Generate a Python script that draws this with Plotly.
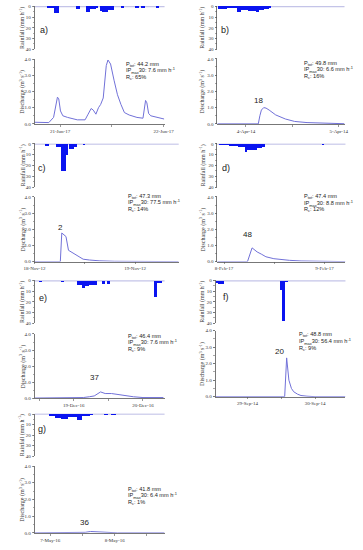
import pandas as pd
import plotly.graph_objects as go

W, H = 363, 550

# ---------------- DATA (hours are relative to each panel's base date) ----------------
base_dates = ["2017-06-21", "2014-04-04", "2012-11-18", "2017-02-08",
              "2016-12-19", "2014-09-29", "2016-05-07"]
x_ranges_h = [(-5.9, 24.2), (-7.4, 25.5), (0.0, 34.4), (-1.6, 29.0),
              (-13.6, 31.5), (-11.4, 34.8), (-5.9, 42.6)]

rain_a_edges = [-3.0, -1.5, -0.3, 3.8, 4.7, 6.0, 7.0, 8.3, 8.9, 9.2, 9.7, 11.2, 12.4, 14.1, 14.8, 17.4, 18.2, 18.8, 19.6, 22.1, 22.9]
rain_a_mm = [1.5, 6, 0, 2, 0, 5.5, 2.5, 1.5, 0, 4.5, 5.5, 3, 0, 1, 0, 1.5, 0, 1.5, 0, 1]
rain_b_edges = [-7.1, -5.0, -2.4, -1.3, 0.6, 1.6, 2.6, 3.4, 4.6, 5.9, 6.5]
rain_b_mm = [2, 1, 5.5, 3.5, 4.5, 4, 5.5, 3, 2, 1]
rain_c_edges = [2.6, 3.4, 5.2, 6.4, 7.5, 8.0, 8.3, 9.4, 10.1, 11.6, 12.0]
rain_c_mm = [2, 0, 3, 25, 10, 0, 5, 3, 0, 1]
rain_d_edges = [-1.1, 1.1, 3.4, 4.9, 5.6, 7.9, 9.0, 9.7, 23.3, 23.9]
rain_d_mm = [1, 2, 3, 7.3, 6, 4.2, 2.4, 0, 1]
rain_e_edges = [-12.0, -10.9, -4.4, -3.3, 1.1, 2.7, 3.8, 5.4, 8.2, 9.8, 10.9, 11.5, 12.5, 27.8, 28.9, 30.5]
rain_e_mm = [1, 0, 1.5, 0, 4, 7, 5, 4, 0, 3, 0, 3.5, 0, 15, 2]
rain_f_edges = [-11.2, -10.4, -8.4, 11.7, 12.1, 13.4, 14.3]
rain_f_mm = [2, 3, 0, 9, 38, 1.5]
rain_g_edges = [-0.6, 1.8, 4.1, 6.4, 8.2, 9.9, 11.7, 13.5, 14.6, 15.8, 19.9, 21.6, 22.8, 24.6]
rain_g_mm = [2, 3.5, 5, 3, 3, 5.5, 2, 1.5, 1, 0, 1, 0, 1]

q_a_h = [-5.9, -4.1, -2.6, -1.5, -0.9, -0.6, -0.3, 0.1, 0.65, 1.75, 4.0, 5.8, 6.5, 7.2, 7.7, 8.3, 8.9, 9.4, 10.0, 10.4,
         10.7, 11.1, 11.7, 12.5, 13.3, 14.1, 14.9, 16.0, 17.8, 19.2, 19.6, 19.8, 20.1, 20.5, 21.0, 22.5, 24.1]
q_a = [0.1, 0.1, 0.08, 0.4, 1.2, 1.65, 1.55, 0.8, 0.5, 0.4, 0.25, 0.25, 0.6, 0.95, 0.85, 0.6, 1.0, 1.2, 1.6, 2.8,
       3.6, 3.95, 3.7, 2.7, 1.8, 1.2, 0.7, 0.55, 0.4, 0.35, 1.0, 1.45, 1.3, 0.65, 0.5, 0.4, 0.3]
q_b_h = [-7.4, 3.2, 3.6, 4.0, 4.6, 5.2, 6.0, 7.7, 10.2, 12.6, 15.8, 19.9, 24.0, 25.5]
q_b = [0, 0, 0.5, 0.85, 1.0, 0.97, 0.85, 0.55, 0.3, 0.15, 0.08, 0.05, 0.02, 0.01]
q_c_h = [0, 6.15, 6.5, 7.1, 7.5, 8.1, 9.0, 9.7, 10.5, 11.6, 13.1, 15.4, 19.1, 24.4, 34.4]
q_c = [0, 0, 1.77, 1.65, 1.55, 0.7, 0.55, 0.45, 0.3, 0.15, 0.1, 0.05, 0.02, 0.0, 0.0]
q_d_h = [-1.6, 5.6, 6.7, 7.9, 9.0, 10.0, 11.9, 13.8, 15.6, 18.4, 21.4, 24.4, 29.0]
q_d = [0, 0, 0.85, 0.6, 0.45, 0.3, 0.18, 0.12, 0.08, 0.04, 0.02, 0.0, 0.0]
q_e_h = [-13.6, 0.0, 3.3, 5.4, 7.1, 9.3, 10.9, 13.1, 16.4, 20.7, 24.0, 27.3, 31.1]
q_e = [0.02, 0.02, 0.05, 0.1, 0.15, 0.4, 0.3, 0.3, 0.2, 0.1, 0.05, 0.03, 0.05]
q_f_h = [-11.4, 13.2, 13.9, 14.7, 15.6, 16.4, 17.8, 19.0, 21.1, 24.0, 34.8]
q_f = [0, 0, 2.35, 1.0, 0.5, 0.3, 0.15, 0.07, 0.03, 0.0, 0.0]
q_g_h = [-5.9, 10.0, 13.0, 15.0, 17.0, 20.0, 25.0, 42.6]
q_g = [0.0, 0.0, 0.03, 0.08, 0.06, 0.03, 0.0, 0.0]

event_ids = ["42", "18", "2", "48", "37", "20", "36"]
event_label_h = [10.5, 3.2, 6.3, 5.6, 7.1, 11.4, 12.9]
event_label_q = [4.43, 1.46, 2.13, 1.67, 1.29, 2.74, 0.63]
panel_letters = ["a)", "b)", "c)", "d)", "e)", "f)", "g)"]
p_tot = ["44.2", "49.8", "47.3", "47.4", "46.4", "48.8", "41.8"]
ip_max30 = ["7.6", "6.6", "77.5", "8.8", "7.6", "56.4", "6.4"]
r_c = ["65", "16", "14", "12", "9", "9", "1"]

rain_y_ticks = [0, 10, 20, 30, 40]
q_y_ticks = [0.0, 1.0, 2.0, 3.0, 4.0]

rain_edges = [rain_a_edges, rain_b_edges, rain_c_edges, rain_d_edges, rain_e_edges, rain_f_edges, rain_g_edges]
rain_vals = [rain_a_mm, rain_b_mm, rain_c_mm, rain_d_mm, rain_e_mm, rain_f_mm, rain_g_mm]
q_hours = [q_a_h, q_b_h, q_c_h, q_d_h, q_e_h, q_f_h, q_g_h]
q_vals = [q_a, q_b, q_c, q_d, q_e, q_f, q_g]

# ---------------- LAYOUT (pixel positions) ----------------
# x0, x1, rain_top, rain_bot, q_top, q_bot
boxes = [(25, 163, 4, 47.7, 57.7, 123),
         (219, 354, 4, 47.7, 57.3, 123),
         (25, 178, 142.7, 186.7, 196.7, 262),
         (219, 355, 142.7, 186.7, 196.7, 262),
         (25, 163, 280.7, 324, 335, 400),
         (217, 355, 280.7, 324, 331.7, 398.3),
         (25, 163, 415.3, 458.3, 468.3, 535.7)]
title_x = [12, 203, 12, 203, 12, 203, 12]
letter_pos = [(35, 28), (227, 28), (33, 168), (228, 168), (34, 299), (228, 298), (33, 430.5)]
stats_pos = [(120, 62.7, 6.6), (309, 62, 6.6), (122, 196, 6.6), (309, 196.7, 6.6),
             (122, 337.3, 6.6), (304, 336, 6.6), (122, 491.7, 6.6)]

SERIF = "Liberation Serif"
SANS = "Liberation Sans"
AXC = "#555555"
RAIN_C = "#0a14f0"
Q_C = "#7171d8"


def px_x(v):
    return v / W


def px_y(v):
    return 1 - v / H


fig = go.Figure()
annotations = []
shapes = []

for i in range(7):
    n = i + 1
    xs = "x" if n == 1 else f"x{n}"
    yr_n, yq_n = 2 * n - 1, 2 * n
    yr = "y" if yr_n == 1 else f"y{yr_n}"
    yq = f"y{yq_n}"
    base = pd.Timestamp(base_dates[i])
    to_t = lambda hh: base + pd.to_timedelta(hh, unit="h")
    x0, x1, rt, rb, qt, qb = boxes[i]

    # rain bars
    e = rain_edges[i]
    v = rain_vals[i]
    bx, by, bw = [], [], []
    for k, val in enumerate(v):
        if val <= 0:
            continue
        bx.append(to_t((e[k] + e[k + 1]) / 2))
        by.append(val)
        bw.append((e[k + 1] - e[k]) * 3600 * 1000)
    fig.add_trace(go.Bar(x=bx, y=by, width=bw, xaxis=xs, yaxis=yr,
                         marker=dict(color=RAIN_C, line=dict(width=0)), showlegend=False))

    # discharge line
    fig.add_trace(go.Scatter(x=[to_t(hh) for hh in q_hours[i]], y=q_vals[i], xaxis=xs, yaxis=yq,
                             mode="lines", line=dict(color=Q_C, width=1), showlegend=False))

    xr = [to_t(x_ranges_h[i][0]), to_t(x_ranges_h[i][1])]
    xkey = "xaxis" if n == 1 else f"xaxis{n}"
    fig.layout[xkey] = dict(
        domain=[px_x(x0), px_x(x1)], anchor=yq, range=xr, type="date",
        showgrid=False, zeroline=False, showline=True, linecolor=AXC, linewidth=0.8,
        ticks="outside", ticklen=2, tickwidth=0.6, tickcolor=AXC,
        tick0=base_dates[i], dtick=86400000, tickformat="%-d-%b-%y",
        tickfont=dict(family=SERIF, size=5, color="#333"),
        minor=dict(ticks="outside", ticklen=2, tickwidth=0.6, tickcolor=AXC, dtick=43200000),
    )
    ykey_r = "yaxis" if yr_n == 1 else f"yaxis{yr_n}"
    fig.layout[ykey_r] = dict(
        domain=[px_y(rb), px_y(rt)], anchor=xs, range=[40, -0.5],
        showgrid=False, zeroline=False, showline=True, linecolor=AXC, linewidth=0.8,
        ticks="outside", ticklen=2, tickwidth=0.6, tickcolor=AXC,
        tickvals=rain_y_ticks, tickfont=dict(family=SERIF, size=5, color="#333"),
        minor=dict(ticks="outside", ticklen=1.2, tickwidth=0.5, tickcolor=AXC, dtick=5),
    )
    fig.layout[f"yaxis{yq_n}"] = dict(
        domain=[px_y(qb), px_y(qt)], anchor=xs, range=[0, 4.0],
        showgrid=False, zeroline=False, showline=True, linecolor=AXC, linewidth=0.8,
        ticks="outside", ticklen=2, tickwidth=0.6, tickcolor=AXC,
        tickvals=q_y_ticks, tickformat=".1f", tickfont=dict(family=SERIF, size=5, color="#333"),
        minor=dict(ticks="outside", ticklen=1.2, tickwidth=0.5, tickcolor=AXC, dtick=0.5),
    )

    # rain zero line along top of rain panel
    shapes.append(dict(type="line", xref=f"{xs} domain", yref=yr, x0=0, x1=1, y0=0, y1=0,
                       line=dict(color="#c4c4e8", width=1.4), layer="below"))

    # axis titles
    annotations.append(dict(text="Rainfall (mm h<sup>-1</sup>)", xref="paper", yref="paper",
                            x=px_x(title_x[i]), y=px_y((rt + rb) / 2), textangle=-90, showarrow=False,
                            font=dict(family=SERIF, size=6, color="#333"), xanchor="center", yanchor="middle"))
    annotations.append(dict(text="Discharge (m<sup>3</sup> s<sup>-1</sup>)", xref="paper", yref="paper",
                            x=px_x(title_x[i]), y=px_y((qt + qb) / 2), textangle=-90, showarrow=False,
                            font=dict(family=SERIF, size=6, color="#333"), xanchor="center", yanchor="middle"))
    # panel letter
    lx, ly = letter_pos[i]
    annotations.append(dict(text=panel_letters[i], xref="paper", yref="paper", x=px_x(lx), y=px_y(ly),
                            showarrow=False, font=dict(family=SANS, size=9, color="#222"),
                            xanchor="center", yanchor="middle"))
    # event number
    annotations.append(dict(text=event_ids[i], xref=xs, yref=yq, x=to_t(event_label_h[i]), y=event_label_q[i],
                            showarrow=False, font=dict(family=SANS, size=8, color="#222"),
                            xanchor="center", yanchor="middle"))
    # stats
    sx, sy, dy = stats_pos[i]
    lines = [f"P<sub>tot</sub>: {p_tot[i]} mm",
             f"IP<sub>max</sub>30: {ip_max30[i]} mm h<sup>-1</sup>",
             f"R<sub>c</sub>: {r_c[i]}%"]
    for k, t in enumerate(lines):
        annotations.append(dict(text=t, xref="paper", yref="paper", x=px_x(sx), y=px_y(sy + k * dy),
                                showarrow=False, font=dict(family=SANS, size=5.6, color="#222"),
                                xanchor="left", yanchor="middle"))

fig.update_layout(width=W, height=H, margin=dict(l=0, r=0, t=0, b=0),
                  paper_bgcolor="white", plot_bgcolor="white", bargap=0, hovermode=False,
                  annotations=annotations, shapes=shapes, showlegend=False)

fig.write_html("out.html", config={"displayModeBar": False, "staticPlot": True},
               post_script="document.body.style.margin='0';document.body.style.padding='0';"
                           "document.documentElement.style.overflow='hidden';")
